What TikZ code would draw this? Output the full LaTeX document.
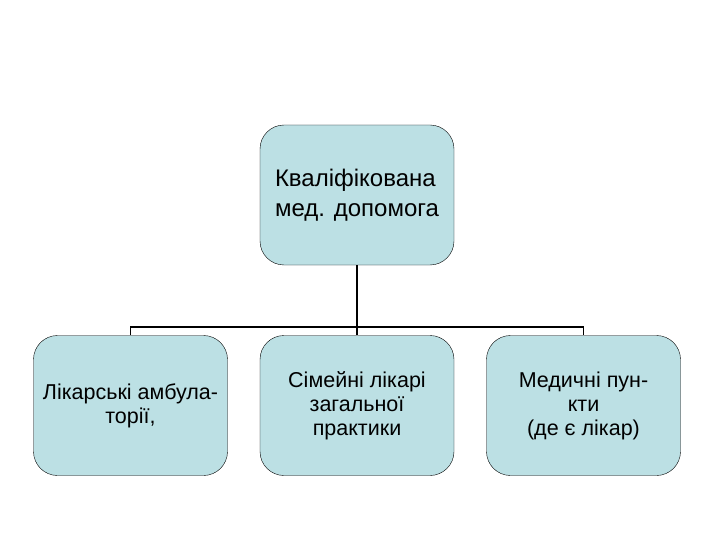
\documentclass[tikz,border=0pt]{standalone}
\usepackage{fontspec}
\setmainfont{Liberation Sans}
\definecolor{boxfill}{RGB}{188,224,228}
\begin{document}
\begin{tikzpicture}[x=1pt,y=-1pt,
  box/.style={draw=black,fill=boxfill,rounded corners=24pt,minimum width=194pt,minimum height=140pt,align=center,font=\fontsize{21.5}{24}\selectfont,inner sep=2pt},
  conn/.style={draw=black,line width=1.5pt}]
\useasboundingbox (0,0) rectangle (720,540);
\node[box,align=left,font=\fontsize{24}{30}\selectfont] (top) at (357,195) {Кваліфікована\\ мед. допомога};
\node[box,font=\fontsize{21.5}{24}\selectfont] (b1) at (130.5,405.5) {Лікарські амбула-\\торії,};
\node[box] (b2) at (357,405.5) {Сімейні лікарі\\загальної\\практики};
\node[box] (b3) at (583.5,405.5) {Медичні пун-\\кти\\(де є лікар)};
\coordinate (bar) at (357,327);
\draw[conn,line width=2.5pt] (top.south) -- (b2.north);
\draw[conn] (b1.north) -- (b1.north |- bar) -- (b3.north |- bar) -- (b3.north);
\end{tikzpicture}
\end{document}
